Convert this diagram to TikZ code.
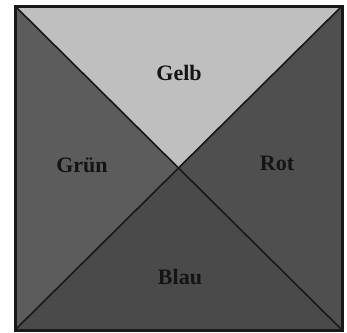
\documentclass[tikz,border=0pt]{standalone}
\usepackage{fontspec}
\setmainfont{Liberation Serif}
\begin{document}
\begin{tikzpicture}[x=1pt,y=-1pt,
  lab/.style={font=\fontsize{22}{26}\selectfont\bfseries, text=black!92},
  edge/.style={draw=black!90, line width=1.6pt}]
\useasboundingbox[fill=white] (0,0) rectangle (347,332);
\coordinate (tl) at (15,6);
\coordinate (tr) at (342,6);
\coordinate (br) at (342,330);
\coordinate (bl) at (15,330);
\coordinate (c) at (179,168);
\fill[black!25] (tl) -- (tr) -- (c) -- cycle;
\fill[black!64] (tl) -- (c) -- (bl) -- cycle;
\fill[black!69] (tr) -- (c) -- (br) -- cycle;
\fill[black!71] (bl) -- (c) -- (br) -- cycle;
\draw[edge] (tl) -- (br);
\draw[edge] (tr) -- (bl);
\draw[draw=black!90, line width=3pt] (tl) rectangle (br);
\node[lab] (gelb) at (179,73) {Gelb};
\node[lab] (gruen) at (82,165) {Grün};
\node[lab] (rot) at (277,163) {Rot};
\node[lab] (blau) at (180,277) {Blau};
\end{tikzpicture}
\end{document}
